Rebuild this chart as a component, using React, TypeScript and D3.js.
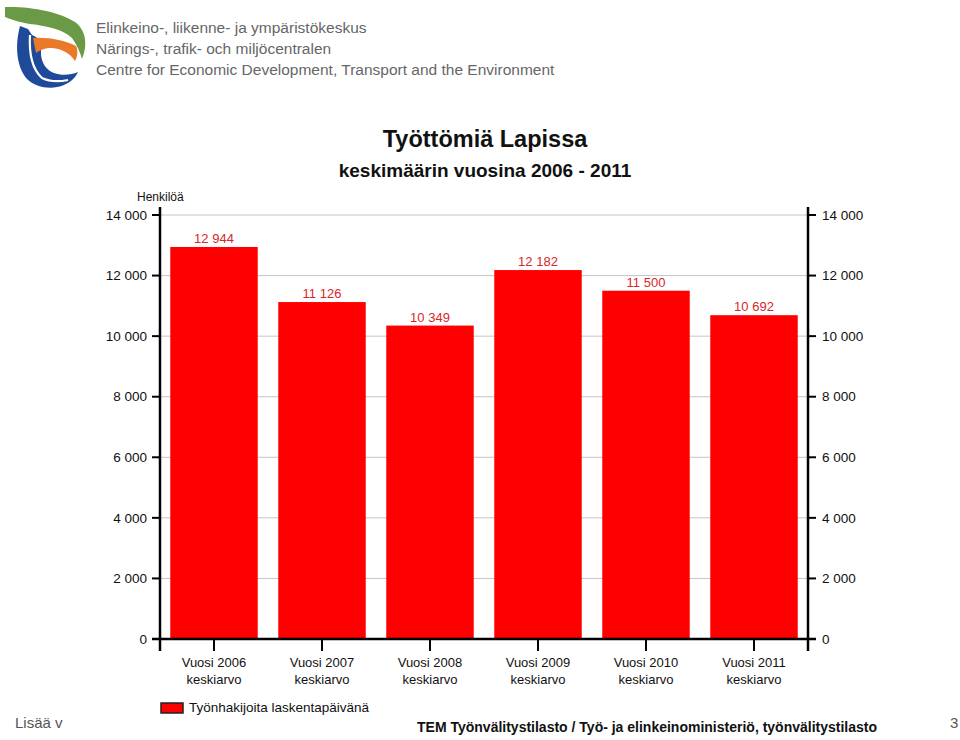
import React from "react";
import * as d3 from "d3";

const categories = ["Vuosi 2006", "Vuosi 2007", "Vuosi 2008", "Vuosi 2009", "Vuosi 2010", "Vuosi 2011"];
const values = [12944, 11126, 10349, 12182, 11500, 10692];
const yTicks = [0, 2000, 4000, 6000, 8000, 10000, 12000, 14000];
const seriesName = "Työnhakijoita laskentapäivänä";
const title = "Työttömiä Lapissa";
const subtitle = "keskimäärin vuosina 2006 - 2011";
const headerLines = [
  "Elinkeino-, liikenne- ja ympäristökeskus",
  "Närings-, trafik- och miljöcentralen",
  "Centre for Economic Development, Transport and the Environment",
];
const footer = "TEM Työnvälitystilasto / Työ- ja elinkeinoministeriö, työnvälitystilasto";

const W = 960;
const H = 740;
const left = 160;
const right = 808;
const top = 215;
const bottom = 639;
const FONT = "Arial, 'Liberation Sans', sans-serif";

const locale = d3.formatLocale({ decimal: ",", thousands: "\u00a0", grouping: [3], currency: ["", "€"] });
const fmt = locale.format(",d");

export default function App() {
  const x = d3.scaleBand<string>().domain(categories).range([left, right]).paddingInner(0.19).paddingOuter(0.095);
  const xc = d3.scaleBand<string>().domain(categories).range([left, right]);
  const y = d3.scaleLinear().domain([0, 14000]).range([bottom, top]);

  return (
    <svg width={W} height={H} style={{ position: "absolute", left: 0, top: 0, background: "#fff" }} fontFamily={FONT}>
      <rect x={0} y={0} width={W} height={H} fill="#fff" />
      {/* logo */}
      <g>
        <path d="M5,7 C30,6 60,12 75,22 C86,30 88,45 82,59 C80,52 77,45 72,38 C64,30 48,26 30,24 C18,22 10,19 5,17 Z" fill="#6a9a45" />
        <path d="M20,26 C15,45 16,66 27,79 C36,88 52,90 64,85 C71,82 76,77 78,72 C71,75 62,76 54,73 C46,70 42,63 41,55 L41,42 C38,38 35,36 32,35 L28,29 Z" fill="#1f4a9a" />
        <path d="M30,35 C29,52 31,68 42,78 C50,82 58,82 68,80" fill="none" stroke="#fff" strokeWidth={2.2} />
        <path d="M33,38 C48,37 64,40 76,46 C78,50 78,56 75,61 C70,53 62,49 52,48 C45,48 40,50 36,53 Z" fill="#e87a2a" />
      </g>
      {headerLines.map((t, i) => (
        <text key={t} x={96} y={33 + i * 21} fontSize={15.5} fill="#666">{t}</text>
      ))}

      {/* title */}
      <text x={485} y={147} textAnchor="middle" fontSize={23.5} fontWeight="bold" fill="#111">{title}</text>
      <text x={485} y={177} textAnchor="middle" fontSize={19} fontWeight="bold" fill="#111">{subtitle}</text>

      <text x={137} y={201} fontSize={12} fill="#111">Henkilöä</text>

      {/* grid */}
      {yTicks.filter((t) => t > 0).map((t) => (
        <line key={"g" + t} x1={left} x2={right} y1={y(t)} y2={y(t)} stroke="#c4c4c4" strokeWidth={1} />
      ))}

      {/* bars */}
      {values.map((v, i) => (
        <g key={categories[i]}>
          <rect x={x(categories[i])} y={y(v)} width={x.bandwidth()} height={y(0) - y(v)} fill="#ff0000" />
          <text x={(x(categories[i]) as number) + x.bandwidth() / 2} y={y(v) - 4} textAnchor="middle" fontSize={13} fill="#d8262a">{fmt(v)}</text>
        </g>
      ))}

      {/* axes */}
      <line x1={left} x2={left} y1={207} y2={651} stroke="#000" strokeWidth={2.5} />
      <line x1={right} x2={right} y1={207} y2={651} stroke="#000" strokeWidth={2.5} />
      <line x1={152} x2={816} y1={y(0)} y2={y(0)} stroke="#000" strokeWidth={2.5} />
      {yTicks.map((t) => (
        <g key={"t" + t}>
          <line x1={152} x2={left} y1={y(t)} y2={y(t)} stroke="#000" strokeWidth={2} />
          <line x1={right} x2={816} y1={y(t)} y2={y(t)} stroke="#000" strokeWidth={2} />
          <text x={147} y={y(t)} dy="0.35em" textAnchor="end" fontSize={13.5} fill="#111">{fmt(t)}</text>
          <text x={822} y={y(t)} dy="0.35em" textAnchor="start" fontSize={13.5} fill="#111">{fmt(t)}</text>
        </g>
      ))}
      {categories.map((c) => {
        const cx = (xc(c) as number) + xc.bandwidth() / 2;
        return (
          <g key={"c" + c}>
            <line x1={cx} x2={cx} y1={y(0)} y2={651} stroke="#000" strokeWidth={2} />
            <text x={cx} y={667} textAnchor="middle" fontSize={13} fill="#111">{c}</text>
            <text x={cx} y={684} textAnchor="middle" fontSize={13} fill="#111">keskiarvo</text>
          </g>
        );
      })}

      {/* legend */}
      <rect x={161} y={703} width={22} height={10} fill="#ff0000" stroke="#222" strokeWidth={1.5} />
      <text x={189} y={712} fontSize={13.5} fill="#111">{seriesName}</text>

      {/* footer */}
      <text x={15} y={728} fontSize={15} fill="#555">Lisää v</text>
      <text x={417} y={732} fontSize={14} fontWeight="bold" fill="#111">{footer}</text>
      <text x={950} y={728} fontSize={15} fill="#555">3</text>
    </svg>
  );
}
